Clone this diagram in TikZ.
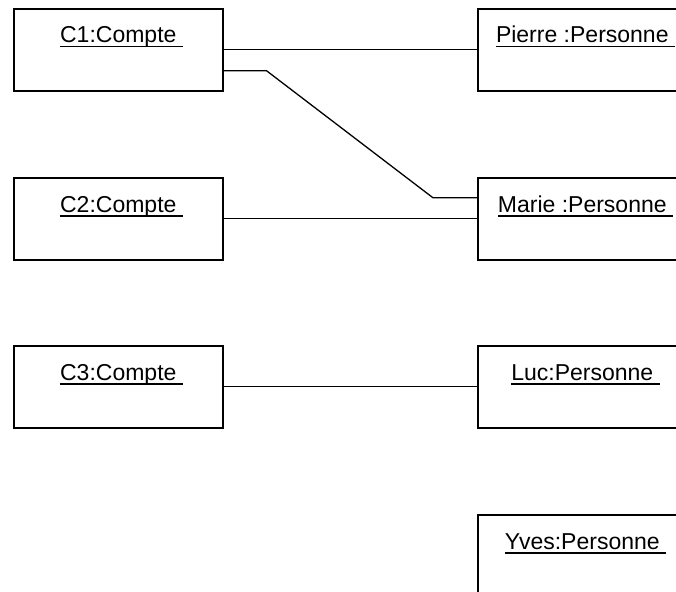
\documentclass[tikz,border=0pt]{standalone}
\usepackage{fontspec}
\setmainfont{Liberation Sans}
\usepackage{tikz}

\newlength{\objwd}
\newcommand{\objname}[1]{\settowidth{\objwd}{#1\ }\rlap{\rule[-4.5pt]{\objwd}{1.3pt}}#1\ }

\begin{document}
\begin{tikzpicture}[x=1pt, y=-1pt,
		obj/.style={draw, line width=1.6pt, minimum width=209pt, minimum height=82pt, inner sep=0pt, anchor=north west},
		objlabel/.style={anchor=base, yshift=-35pt, inner sep=0pt, font=\fontsize{23}{27}\selectfont},
		link/.style={line width=1.3pt}]
			\clip (0, 0) rectangle (676, 591);
			\node[obj, label={[objlabel]north:\objname{C1:Compte}}] (c1) at (13, 8) {};
			\node[obj, label={[objlabel]north:\objname{C2:Compte}}] (c2) at (13, 177) {};
			\node[obj, label={[objlabel]north:\objname{C3:Compte}}] (c3) at (13, 345) {};
			\node[obj, label={[objlabel]north:\objname{Pierre :Personne}}] (pierre) at (477, 8) {};
			\node[obj, label={[objlabel]north:\objname{Marie :Personne}}] (marie) at (477, 177) {};
			\node[obj, label={[objlabel]north:\objname{Luc:Personne}}] (luc) at (477, 345) {};
			\node[obj, label={[objlabel]north:\objname{Yves:Personne}}] (yves) at (477, 514) {};
			\draw[link] (c1.east) -- (pierre.west);
			\draw[link] ([yshift=-21pt]c1.east) -- ++(43, 0) -- ([xshift=-44pt, yshift=21pt]marie.west) -- ([yshift=21pt]marie.west);
			\draw[link] (c2.east) -- (marie.west);
			\draw[link] (c3.east) -- (luc.west);
		\end{tikzpicture}
\end{document}
